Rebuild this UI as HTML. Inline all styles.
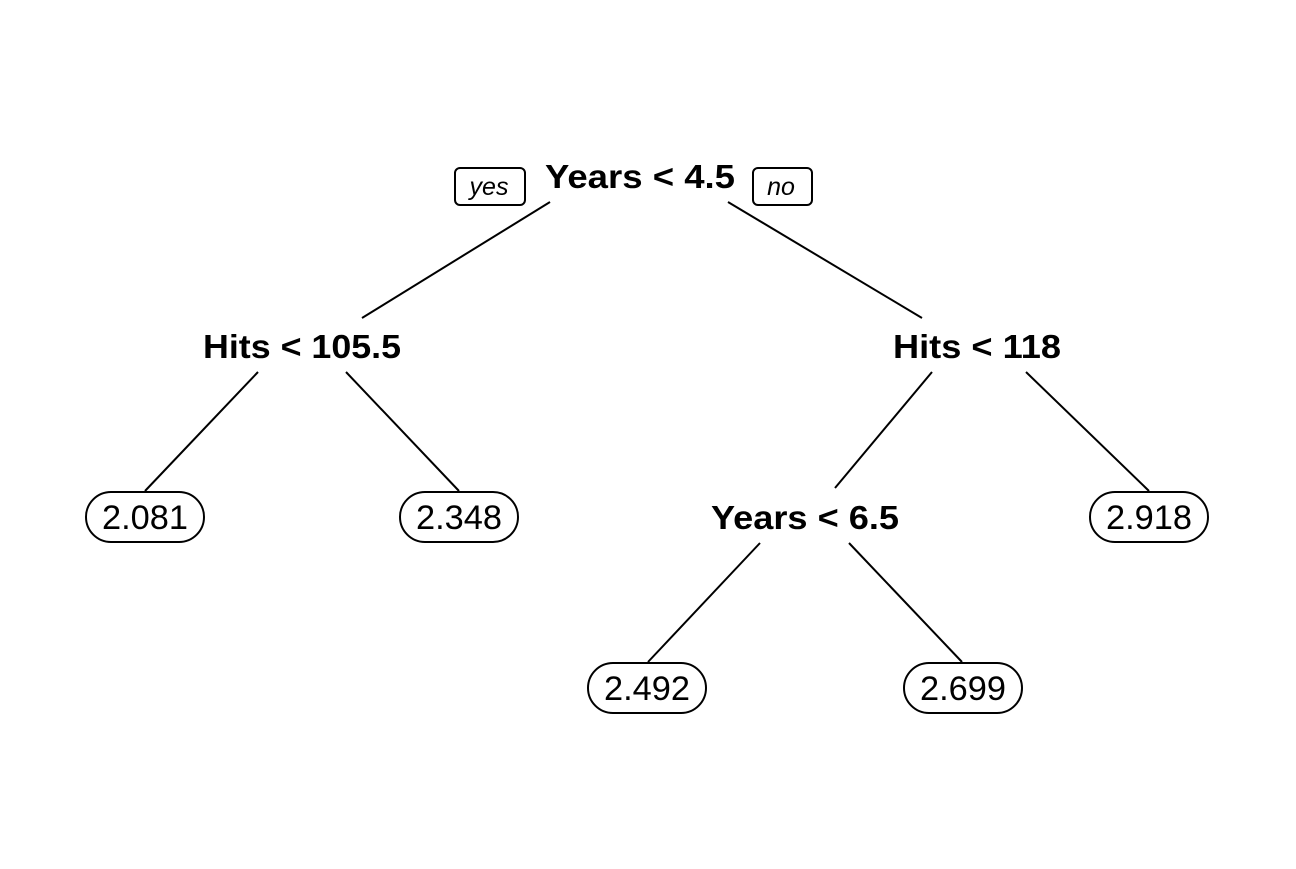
<!DOCTYPE html>
<html><head><style>body{margin:0;background:#fff}</style></head><body>
<svg width="1296" height="864" xmlns="http://www.w3.org/2000/svg" font-family="Liberation Sans, Arial, sans-serif">
<rect width="1296" height="864" fill="#fff"/>
<g stroke="#000" stroke-width="2" fill="none">
<line x1="550" y1="202" x2="362" y2="318"/>
<line x1="728" y1="202" x2="922" y2="318"/>
<line x1="258" y1="372" x2="145" y2="491"/>
<line x1="346" y1="372" x2="459" y2="491"/>
<line x1="932" y1="372" x2="835" y2="488"/>
<line x1="1026" y1="372" x2="1149" y2="491"/>
<line x1="760" y1="543" x2="648" y2="662"/>
<line x1="849" y1="543" x2="962" y2="662"/>
<rect x="455" y="168" width="70" height="37" rx="5"/>
<rect x="753" y="168" width="59" height="37" rx="5"/>
</g>
<g stroke="#000" stroke-width="2" fill="#fff">
<rect x="86" y="492" width="118" height="50" rx="25"/>
<rect x="400" y="492" width="118" height="50" rx="25"/>
<rect x="1090" y="492" width="118" height="50" rx="25"/>
<rect x="588" y="663" width="118" height="50" rx="25"/>
<rect x="904" y="663" width="118" height="50" rx="25"/>
</g>
<g font-size="25" font-style="italic" text-anchor="middle">
<text x="489" y="195">yes</text>
<text x="781" y="195">no</text>
</g>
<g font-size="33" font-weight="bold" text-anchor="middle">
<text x="640" y="188" textLength="190" lengthAdjust="spacingAndGlyphs">Years &lt; 4.5</text>
<text x="302" y="358" textLength="198" lengthAdjust="spacingAndGlyphs">Hits &lt; 105.5</text>
<text x="977" y="358" textLength="168" lengthAdjust="spacingAndGlyphs">Hits &lt; 118</text>
<text x="805" y="529" textLength="188" lengthAdjust="spacingAndGlyphs">Years &lt; 6.5</text>
</g>
<g font-size="34" text-anchor="middle">
<text x="145" y="529" textLength="86" lengthAdjust="spacingAndGlyphs">2.081</text>
<text x="459" y="529" textLength="86" lengthAdjust="spacingAndGlyphs">2.348</text>
<text x="1149" y="529" textLength="86" lengthAdjust="spacingAndGlyphs">2.918</text>
<text x="647" y="700" textLength="86" lengthAdjust="spacingAndGlyphs">2.492</text>
<text x="963" y="700" textLength="86" lengthAdjust="spacingAndGlyphs">2.699</text>
</g>
</svg>
</body></html>
